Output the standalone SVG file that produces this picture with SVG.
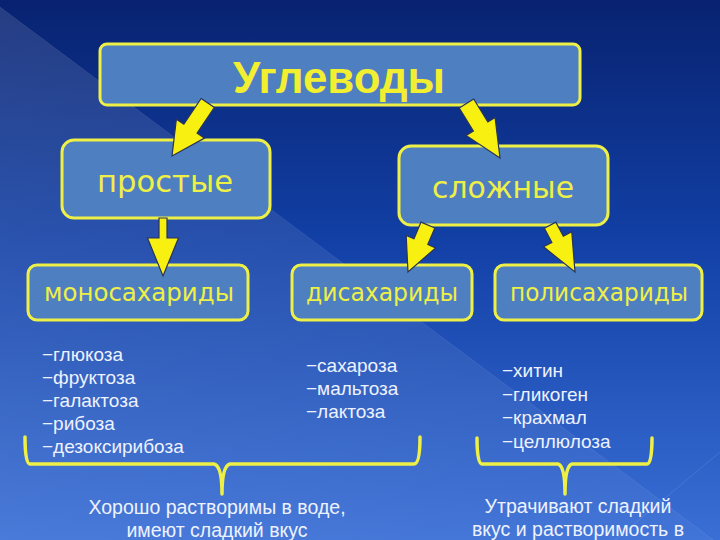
<svg xmlns="http://www.w3.org/2000/svg" width="720" height="540" viewBox="0 0 720 540">
  <defs>
    <linearGradient id="bg" x1="0" y1="0" x2="0" y2="1">
      <stop offset="0" stop-color="#082270"/>
      <stop offset="0.45" stop-color="#1240a6"/>
      <stop offset="1" stop-color="#3a6fd6"/>
    </linearGradient>
    <linearGradient id="tri" x1="0" y1="0" x2="1" y2="1">
      <stop offset="0" stop-color="#ffffff" stop-opacity="0.12"/>
      <stop offset="1" stop-color="#ffffff" stop-opacity="0.04"/>
    </linearGradient>
    <style>
      .box { fill: #4e7fc1; stroke: #eef046; stroke-width: 3; }
      .lbl { font-family: "DejaVu Sans", "Liberation Sans", sans-serif; fill: #eef046; text-anchor: middle; }
      .title { font-family: "Liberation Sans", Arial, sans-serif; font-weight: bold; fill: #f2ee30; text-anchor: middle; }
      .item { font-family: "Liberation Sans", Arial, sans-serif; font-size: 19px; fill: #eef2ff; }
      .note { font-family: "Liberation Sans", Arial, sans-serif; font-size: 19.5px; fill: #eef2ff; text-anchor: middle; }
      .arrow { fill: #f7f010; stroke: #2a3358; stroke-width: 1.2; stroke-linejoin: miter; }
      .brace { fill: none; stroke: #eef046; stroke-width: 3.5; stroke-linejoin: round; stroke-linecap: round; }
    </style>
  </defs>

  <rect x="0" y="0" width="720" height="540" fill="url(#bg)"/>
  <polygon points="0,7 720,545 0,545" fill="url(#tri)"/>
  <line x1="0" y1="7" x2="720" y2="545" stroke="#ffffff" stroke-opacity="0.08" stroke-width="1"/>
  <line x1="720" y1="452" x2="615" y2="540" stroke="#ffffff" stroke-opacity="0.1" stroke-width="1"/>

  <g id="node-uglevody">
    <rect class="box" x="100" y="44" width="480" height="61" rx="7"/>
    <text class="title" x="339" y="93" font-size="44" textLength="212" lengthAdjust="spacingAndGlyphs">Углеводы</text>
  </g>
  <g id="node-prostye">
    <rect class="box" x="62" y="140" width="208" height="78" rx="12"/>
    <text class="lbl" x="165" y="192" font-size="31" textLength="136" lengthAdjust="spacingAndGlyphs">простые</text>
  </g>
  <g id="node-slozhnye">
    <rect class="box" x="399" y="146" width="209" height="79" rx="12"/>
    <text class="lbl" x="503" y="198" font-size="31" textLength="142" lengthAdjust="spacingAndGlyphs">сложные</text>
  </g>
  <g id="node-mono">
    <rect class="box" x="28" y="265" width="220" height="55" rx="9"/>
    <text class="lbl" x="139" y="301" font-size="24" textLength="190" lengthAdjust="spacingAndGlyphs">моносахариды</text>
  </g>
  <g id="node-di">
    <rect class="box" x="292" y="265" width="180" height="55" rx="9"/>
    <text class="lbl" x="382" y="301" font-size="24" textLength="152" lengthAdjust="spacingAndGlyphs">дисахариды</text>
  </g>
  <g id="node-poli">
    <rect class="box" x="495" y="265" width="207" height="55" rx="9"/>
    <text class="lbl" x="599" y="301" font-size="24" textLength="178" lengthAdjust="spacingAndGlyphs">полисахариды</text>
  </g>

  <g id="connectors">
    <polygon class="arrow" transform="translate(172,156) rotate(34)" points="-8,-64 8,-64 8,-33 17,-33 0,0 -17,-33 -8,-33"/>
    <polygon class="arrow" transform="translate(500,158) rotate(-31.6)" points="-8.5,-64 8.5,-64 8.5,-37 17,-37 0,0 -17,-37 -8.5,-37"/>
    <polygon class="arrow" points="159,218 167,218 167,238 178.5,238 163,276 147.5,238 159,238"/>
    <polygon class="arrow" transform="translate(408,272) rotate(23)" points="-7.5,-51 7.5,-51 7.5,-33 16,-33 0,0 -16,-33 -7.5,-33"/>
    <polygon class="arrow" transform="translate(575,272) rotate(-28)" points="-6.5,-53 6.5,-53 6.5,-37 16,-37 0,0 -16,-37 -6.5,-37"/>
  </g>

  <g id="list-mono">
    <text class="item" x="42" y="361">−глюкоза</text>
    <text class="item" x="42" y="384">−фруктоза</text>
    <text class="item" x="42" y="407">−галактоза</text>
    <text class="item" x="42" y="430">−рибоза</text>
    <text class="item" x="42" y="453">−дезоксирибоза</text>
  </g>
  <g id="list-di">
    <text class="item" x="306" y="372">−сахароза</text>
    <text class="item" x="306" y="395">−мальтоза</text>
    <text class="item" x="306" y="418">−лактоза</text>
  </g>
  <g id="list-poli">
    <text class="item" x="502" y="377">−хитин</text>
    <text class="item" x="502" y="401">−гликоген</text>
    <text class="item" x="502" y="424">−крахмал</text>
    <text class="item" x="502" y="448">−целлюлоза</text>
  </g>

  <g id="brace-left">
    <path class="brace" d="M25,437 Q25,464 30,464 L214,464 Q222,466 222,494 Q222,466 230,464 L414,464 Q420,464 420,437"/>
  </g>
  <g id="brace-right">
    <path class="brace" d="M477,438 Q477,464 482,464 L558,464 Q565,466 565,494 Q565,466 572,464 L647,464 Q652,464 652,438"/>
  </g>

  <g id="note-left">
    <text class="note" x="217" y="514">Хорошо растворимы в воде,</text>
    <text class="note" x="217" y="537">имеют сладкий вкус</text>
  </g>
  <g id="note-right">
    <text class="note" x="578" y="513">Утрачивают сладкий</text>
    <text class="note" x="578" y="536">вкус и растворимость в</text>
  </g>
</svg>
